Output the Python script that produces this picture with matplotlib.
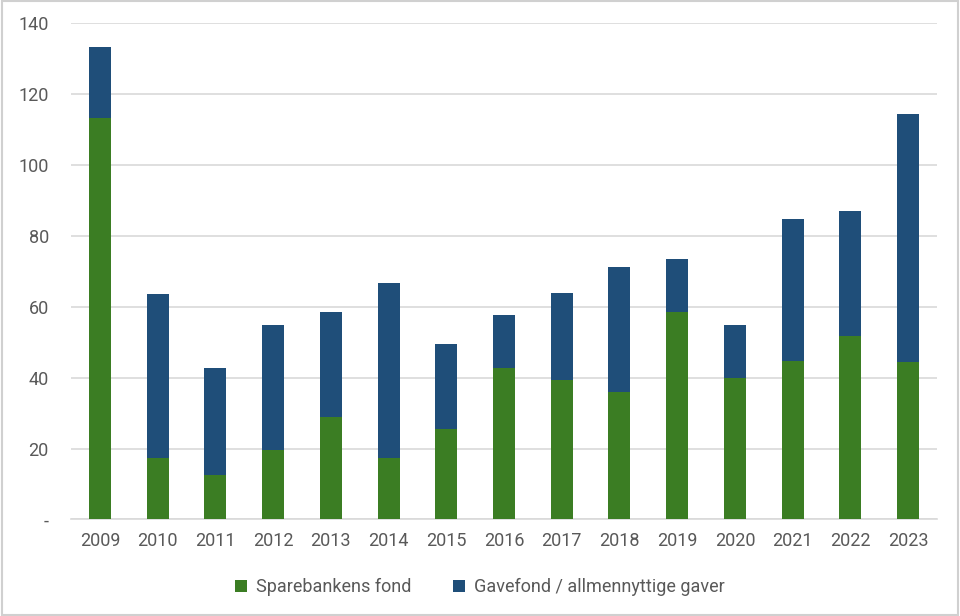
import matplotlib.pyplot as plt
import matplotlib.patches as mpatches
import numpy as np

plt.rcParams['font.family'] = ['Roboto', 'DejaVu Sans']

years = ['2009', '2010', '2011', '2012', '2013', '2014', '2015', '2016',
         '2017', '2018', '2019', '2020', '2021', '2022', '2023']
sparebank = [113.2, 17.2, 12.5, 19.7, 28.9, 17.2, 25.5, 42.8,
             39.2, 36.0, 58.5, 40.0, 44.8, 51.8, 44.4]
totals = [133.2, 63.7, 42.8, 54.9, 58.5, 66.8, 49.4, 57.7,
          64.0, 71.1, 73.5, 54.9, 84.6, 87.1, 114.3]
gavefond = [t - s for t, s in zip(totals, sparebank)]

green = '#3b7d23'
blue = '#1f4e79'
grey_txt = '#595959'

fig = plt.figure(figsize=(9.6, 6.16), dpi=100)
ax = fig.add_axes([0.074, 0.1567, 0.902, 0.806])

x = np.arange(len(years))
ax.bar(x, sparebank, width=0.38, color=green, label='Sparebankens fond', zorder=3)
ax.bar(x, gavefond, width=0.38, bottom=sparebank, color=blue,
       label='Gavefond / allmennyttige gaver', zorder=3)

ax.set_xlim(-0.5, len(years) - 0.5)
ax.set_ylim(0, 140)
ax.set_yticks(range(0, 141, 20))
ax.set_yticklabels(['-'] + [str(v) for v in range(20, 141, 20)])
ax.set_xticks(x)
ax.set_xticklabels(years)
ax.grid(axis='y', color='#d9d9d9', linewidth=1.2, zorder=0)
for s in ['top', 'right', 'left']:
    ax.spines[s].set_visible(False)
ax.spines['bottom'].set_color('#d9d9d9')
ax.spines['bottom'].set_linewidth(1.2)
ax.tick_params(axis='both', length=0, labelsize=13, labelcolor=grey_txt)
ax.tick_params(axis='x', pad=9)
ax.tick_params(axis='y', pad=16)

fig.legend(loc='center', bbox_to_anchor=(0.5, 0.047), ncol=2, frameon=False,
           fontsize=13, labelcolor=grey_txt, handlelength=0.65, handleheight=0.65,
           handletextpad=0.5, columnspacing=2.3)

fig.patches.append(mpatches.Rectangle((0.002, 0.002), 0.996, 0.996, transform=fig.transFigure,
                                      fill=False, edgecolor='#d0d0d0', linewidth=1.5))

fig.savefig('out.png', dpi=100)
